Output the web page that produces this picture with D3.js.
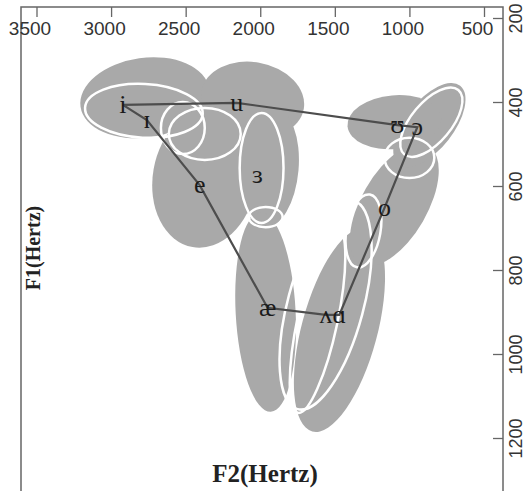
<!DOCTYPE html>
<html>
<head>
<meta charset="utf-8">
<script src="https://cdn.jsdelivr.net/npm/d3@7"></script>
<style>
  body { margin: 0; background: #fff; }
  svg { display: block; }
</style>
</head>
<body>
<div id="chart"></div>
<script>
// vowel means, F2 / F1 in Hz
const vowels = ['i', 'ɪ', 'u', 'e', 'ɜ', 'ʊ', 'ɔ', 'o', 'æ', 'ʌ', 'ɑ'];
const f2Means = [2921, 2760, 2158, 2406, 2018, 1080, 947, 1167, 1951, 1560, 1470];
const f1Means = [407, 443, 402, 598, 574, 455, 460, 652, 890, 907, 907];
const polygonOrder = ['i', 'u', 'ʊ', 'ɔ', 'o', 'ɑ', 'ʌ', 'æ', 'e', 'ɪ', 'i'];

// filled (grey) dispersion ellipses: centre, half-axes in Hz, tilt in degrees
const grayF2 = [2774, 2051, 2372, 1937, 1964, 1469, 1101, 866, 1101];
const grayF1 = [390, 395, 581, 557, 900, 943, 645, 455, 448];
const grayF2Radius = [435, 348, 348, 194, 201, 254, 221, 161, 315];
const grayF1Radius = [95, 90, 167, 143, 238, 250, 162, 119, 64];
const grayTilt = [-8, 10, 10, 5, -3, 15, 30, 38, -5];

// outlined (white) dispersion ellipses
const whiteF2 = [2780, 2519, 2372, 1991, 1964, 1562, 1616, 1308, 1000, 853];
const whiteF1 = [421, 462, 476, 557, 674, 883, 919, 707, 533, 448];
const whiteF2Radius = [395, 147, 241, 147, 114, 254, 134, 114, 167, 134];
const whiteF1Radius = [64, 62, 62, 131, 24, 257, 226, 88, 48, 100];
const whiteTilt = [3, 0, 0, 0, 0, 15, 12, 10, 0, 40];

const f2Ticks = [3500, 3000, 2500, 2000, 1500, 1000, 500];
const f1Ticks = [200, 400, 600, 800, 1000, 1200];

const W = 525, H = 491;
const box = {left: 21, right: 503, top: 7, bottom: 500};

const svg = d3.select('#chart').append('svg')
  .attr('width', W)
  .attr('height', H);

const x = d3.scaleLinear().domain([3500, 500]).range([36.5, 484]);
const y = d3.scaleLinear().domain([200, 1200]).range([18, 438]);

function ellipses(f2, f1, r2, r1, tilt) {
  return f2.map((d, i) => ({f2: d, f1: f1[i], r2: r2[i], r1: r1[i], tilt: tilt[i]}));
}

function drawEllipses(g, data) {
  return g.selectAll('ellipse')
    .data(data)
    .join('ellipse')
      .attr('transform', d => `translate(${x(d.f2)},${y(d.f1)}) rotate(${d.tilt})`)
      .attr('rx', d => Math.abs(x(d.f2 + d.r2) - x(d.f2)))
      .attr('ry', d => Math.abs(y(d.f1 + d.r1) - y(d.f1)));
}

drawEllipses(svg.append('g'), ellipses(grayF2, grayF1, grayF2Radius, grayF1Radius, grayTilt))
  .attr('fill', '#a9a9a9');

drawEllipses(svg.append('g'), ellipses(whiteF2, whiteF1, whiteF2Radius, whiteF1Radius, whiteTilt))
  .attr('fill', 'none')
  .attr('stroke', '#fff')
  .attr('stroke-width', 2.5);

// vowel quadrilateral
const pts = polygonOrder.map(v => {
  const k = vowels.indexOf(v);
  return [f2Means[k], f1Means[k]];
});
svg.append('path')
  .attr('d', d3.line().x(d => x(d[0])).y(d => y(d[1]))(pts))
  .attr('fill', 'none')
  .attr('stroke', '#4d4d4d')
  .attr('stroke-width', 2.2);

svg.append('g').selectAll('text')
  .data(vowels)
  .join('text')
    .attr('x', (d, i) => x(f2Means[i]))
    .attr('y', (d, i) => y(f1Means[i]))
    .attr('dy', '0.3em')
    .attr('text-anchor', 'middle')
    .style('font-family', '"Liberation Serif", "DejaVu Serif", serif')
    .style('font-size', '26px')
    .attr('fill', '#1a1a1a')
    .text(d => d);

// frame
svg.append('rect')
  .attr('x', box.left).attr('y', box.top)
  .attr('width', box.right - box.left).attr('height', box.bottom - box.top)
  .attr('fill', 'none')
  .attr('stroke', '#666')
  .attr('stroke-width', 1.5);

// F2 axis along the top, ticks pointing in
const topAxis = svg.append('g')
  .attr('transform', `translate(0,${box.top})`)
  .call(d3.axisBottom(x).tickValues(f2Ticks).tickSize(10).tickPadding(5).tickFormat(d3.format('d')));
topAxis.select('.domain').remove();
topAxis.selectAll('line').attr('stroke', '#666').attr('stroke-width', 1.3);
topAxis.selectAll('text')
  .attr('dx', -7)
  .attr('fill', '#333')
  .style('font-family', '"Liberation Sans", Arial, sans-serif')
  .style('font-size', '19px');

// F1 axis on the right, ticks pointing in, labels rotated
const rightAxis = svg.append('g')
  .attr('transform', `translate(${box.right},0)`)
  .call(d3.axisRight(y).tickValues(f1Ticks).tickSize(-10).tickFormat(d3.format('d')));
rightAxis.select('.domain').remove();
rightAxis.selectAll('line').attr('stroke', '#666').attr('stroke-width', 1.3);
rightAxis.selectAll('text')
  .attr('x', null).attr('dy', null)
  .attr('transform', 'translate(19,0) rotate(-90)')
  .attr('text-anchor', 'middle')
  .attr('fill', '#333')
  .style('font-family', '"Liberation Sans", Arial, sans-serif')
  .style('font-size', '18px');

// axis titles
svg.append('text')
  .attr('x', 265).attr('y', 482)
  .attr('text-anchor', 'middle')
  .style('font-family', '"Liberation Serif", "Times New Roman", serif')
  .style('font-weight', 'bold')
  .style('font-size', '25px')
  .attr('fill', '#222')
  .text('F2(Hertz)');

svg.append('text')
  .attr('transform', 'translate(40,248) rotate(-90)')
  .attr('text-anchor', 'middle')
  .style('font-family', '"Liberation Serif", "Times New Roman", serif')
  .style('font-weight', 'bold')
  .style('font-size', '20px')
  .attr('fill', '#222')
  .text('F1(Hertz)');
</script>
</body>
</html>
